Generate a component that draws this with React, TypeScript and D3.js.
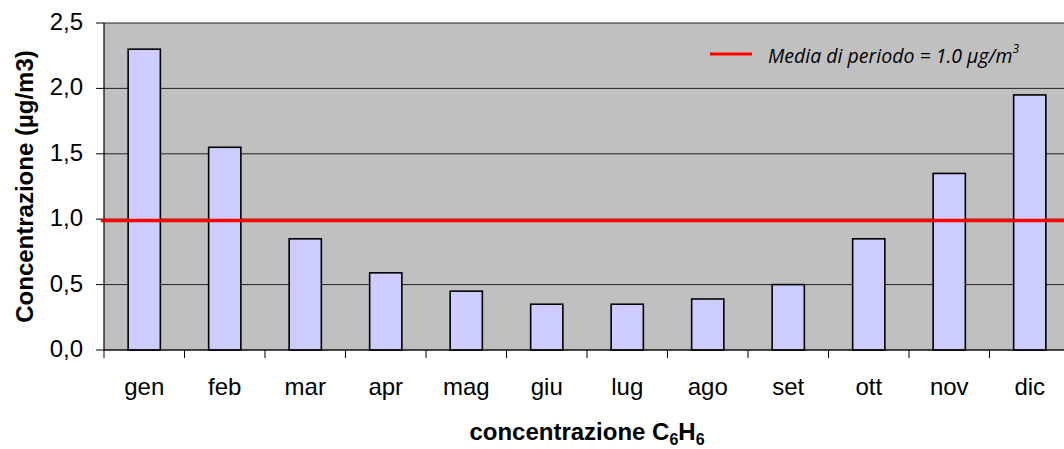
import React from "react";
import * as d3 from "d3";

const months = ["gen", "feb", "mar", "apr", "mag", "giu", "lug", "ago", "set", "ott", "nov", "dic"];
const values = [2.3, 1.55, 0.85, 0.59, 0.45, 0.35, 0.35, 0.39, 0.5, 0.85, 1.35, 1.95];
const yTicks = [0, 0.5, 1.0, 1.5, 2.0, 2.5];
const meanValue = 0.99;

const W = 1064;
const H = 449;
const plotLeft = 104;
const plotTop = 23;
const plotBottom = 350;
const band = 80.5;
const plotRight = plotLeft + band * months.length;

export default function App() {
  const x = d3.scaleBand<string>().domain(months).range([plotLeft, plotRight]).paddingInner(0).paddingOuter(0);
  const y = d3.scaleLinear().domain([0, 2.5]).range([plotBottom, plotTop]);
  const barW = x.bandwidth() / 2.5;
  const fmt = (v: number) => v.toFixed(1).replace(".", ",");
  const tickPositions = d3.range(months.length + 1).map((i) => plotLeft + i * x.step());
  const font = "Liberation Sans, Arial, sans-serif";

  return (
    <svg width={W} height={H} style={{ position: "absolute", left: 0, top: 0, background: "#fff" }}>
      <defs>
        <clipPath id="clip">
          <rect x={0} y={0} width={W} height={H} />
        </clipPath>
      </defs>
      <g clipPath="url(#clip)">
        <rect x={plotLeft} y={plotTop} width={plotRight - plotLeft} height={plotBottom - plotTop} fill="#C0C0C0" />
        {yTicks.map((t) => (
          <line key={t} x1={plotLeft} x2={plotRight} y1={y(t)} y2={y(t)} stroke="#222" strokeWidth={1} />
        ))}
        {months.map((m, i) => {
          const cx = (x(m) as number) + x.bandwidth() / 2;
          return (
            <rect
              key={m}
              x={cx - barW / 2}
              y={y(values[i])}
              width={barW}
              height={plotBottom - y(values[i])}
              fill="#CCCCFF"
              stroke="#000"
              strokeWidth={1.6}
            />
          );
        })}
        <line x1={plotLeft} x2={plotRight} y1={plotBottom} y2={plotBottom} stroke="#000" strokeWidth={1.2} />
        <line x1={plotLeft} x2={plotLeft} y1={plotTop} y2={plotBottom} stroke="#000" strokeWidth={1.2} />
        {tickPositions.map((tx, i) => (
          <line key={i} x1={tx} x2={tx} y1={plotBottom} y2={plotBottom + 8} stroke="#000" strokeWidth={1} />
        ))}
        {yTicks.map((t) => (
          <line key={"yt" + t} x1={plotLeft - 8} x2={plotLeft} y1={y(t)} y2={y(t)} stroke="#000" strokeWidth={1} />
        ))}
        <line x1={plotLeft - 3} x2={plotRight} y1={y(meanValue)} y2={y(meanValue)} stroke="#FF0000" strokeWidth={3.5} />
      </g>
      {yTicks.map((t) => (
        <text key={"yl" + t} x={83} y={y(t) + 7} textAnchor="end" fontFamily={font} fontSize={24} fill="#000">
          {fmt(t)}
        </text>
      ))}
      {months.map((m) => (
        <text
          key={"xl" + m}
          x={(x(m) as number) + x.bandwidth() / 2}
          y={395}
          textAnchor="middle"
          fontFamily={font}
          fontSize={24}
          fill="#000"
        >
          {m}
        </text>
      ))}
      <text
        transform={`translate(33, ${(plotTop + plotBottom) / 2}) rotate(-90)`}
        textAnchor="middle"
        fontFamily={font}
        fontSize={24}
        fontWeight="bold"
        fill="#000"
      >
        Concentrazione (µg/m3)
      </text>
      <text x={(plotLeft + plotRight) / 2} y={440} textAnchor="middle" fontFamily={font} fontSize={24} fontWeight="bold" fill="#000">
        concentrazione C<tspan fontSize={16} dy={5}>6</tspan>
        <tspan dy={-5}>H</tspan>
        <tspan fontSize={16} dy={5}>6</tspan>
      </text>
      <line x1={710} x2={752} y1={54} y2={54} stroke="#FF0000" strokeWidth={3} />
      <text x={768} y={63} fontFamily="Open Sans, sans-serif" fontStyle="italic" fontSize={19.5} fill="#000">
        Media di periodo = 1.0 μg/m<tspan fontSize={12} dy={-10}>3</tspan>
      </text>
    </svg>
  );
}
